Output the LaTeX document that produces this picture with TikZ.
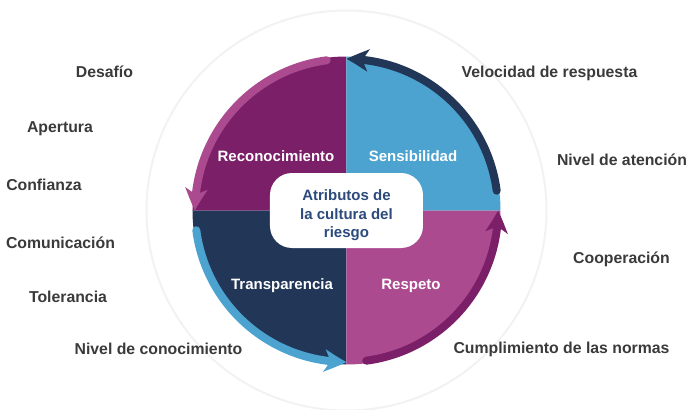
\documentclass[tikz,border=0pt]{standalone}
\usepackage{fontspec}
\setmainfont{Liberation Sans}
\usetikzlibrary{arrows.meta,bending}
\definecolor{cpurple}{HTML}{7A1F68}
\definecolor{cblue}{HTML}{4CA3CF}
\definecolor{cnavy}{HTML}{223657}
\definecolor{cpink}{HTML}{AC4A90}
\definecolor{ctitle}{HTML}{2C4A7B}
\definecolor{cgraytext}{HTML}{3A3A3A}
\definecolor{cring}{HTML}{F2F2F2}
\begin{document}
\begin{tikzpicture}[x=1pt,y=1pt,
  quadlabel/.style={text=white,font=\fontsize{15}{18}\selectfont\bfseries,anchor=base,inner sep=0pt},
  outerlabel/.style={text=cgraytext,font=\fontsize{15.8}{18}\selectfont\bfseries,anchor=base,inner sep=0pt},
  centerline/.style={text=ctitle,font=\fontsize{15}{18}\selectfont\bfseries,anchor=base,inner sep=0pt},
  cyclearrow/.style={line width=8pt,line cap=round,-{Stealth[length=22pt,width=22pt,inset=6pt,bend]}}]
\useasboundingbox (-346.5,-199.5) rectangle (342.5,210.5);
% faint outer ring
\draw[cring,line width=2pt] (0,0) circle[radius=200];
% quadrants
\fill[cpurple] (0,0) -- (90:154) arc[start angle=90,end angle=180,radius=154] -- cycle;
\fill[cblue] (0,0) -- (0:154) arc[start angle=0,end angle=90,radius=154] -- cycle;
\fill[cnavy] (0,0) -- (180:154) arc[start angle=180,end angle=270,radius=154] -- cycle;
\fill[cpink] (0,0) -- (270:154) arc[start angle=270,end angle=360,radius=154] -- cycle;
% cycle arrows
\draw[cyclearrow,cnavy] (7.5:151.5) arc[start angle=7.5,end angle=90,radius=151.5];
\draw[cyclearrow,cpink] (97.5:151.5) arc[start angle=97.5,end angle=180,radius=151.5];
\draw[cyclearrow,cblue] (187.5:151.5) arc[start angle=187.5,end angle=270,radius=151.5];
\draw[cyclearrow,cpurple] (277.5:151.5) arc[start angle=277.5,end angle=360,radius=151.5];
% center box
\node (center) [fill=white,rounded corners=22pt,minimum width=153pt,minimum height=75pt] at (0,0) {};
\node (t1) [centerline] at (0,10) {Atributos de};
\node (t2) [centerline] at (0,-8.5) {la cultura del};
\node (t3) [centerline] at (0,-26.5) {riesgo};
% quadrant labels
\node (recon) [quadlabel] at (-70.5,49) {Reconocimiento};
\node (sensi) [quadlabel] at (66.5,49) {Sensibilidad};
\node (trans) [quadlabel] at (-64.5,-78.8) {Transparencia};
\node (resp) [quadlabel] at (64.5,-78.8) {Respeto};
% outer labels left
\node (desafio) [outerlabel] at (-242,133) {Desafío};
\node (apertura) [outerlabel] at (-286.5,78) {Apertura};
\node (confianza) [outerlabel] at (-302.5,20) {Confianza};
\node (comunic) [outerlabel] at (-286,-37.5) {Comunicación};
\node (toler) [outerlabel] at (-278.5,-92) {Tolerancia};
\node (nivcon) [outerlabel] at (-188,-144) {Nivel de conocimiento};
% outer labels right
\node (veloc) [outerlabel] at (203,133.5) {Velocidad de respuesta};
\node (nivat) [outerlabel] at (275.5,45) {Nivel de atención};
\node (coop) [outerlabel] at (275,-52.5) {Cooperación};
\node (cumpl) [outerlabel] at (215,-142.5) {Cumplimiento de las normas};
\end{tikzpicture}
\end{document}
